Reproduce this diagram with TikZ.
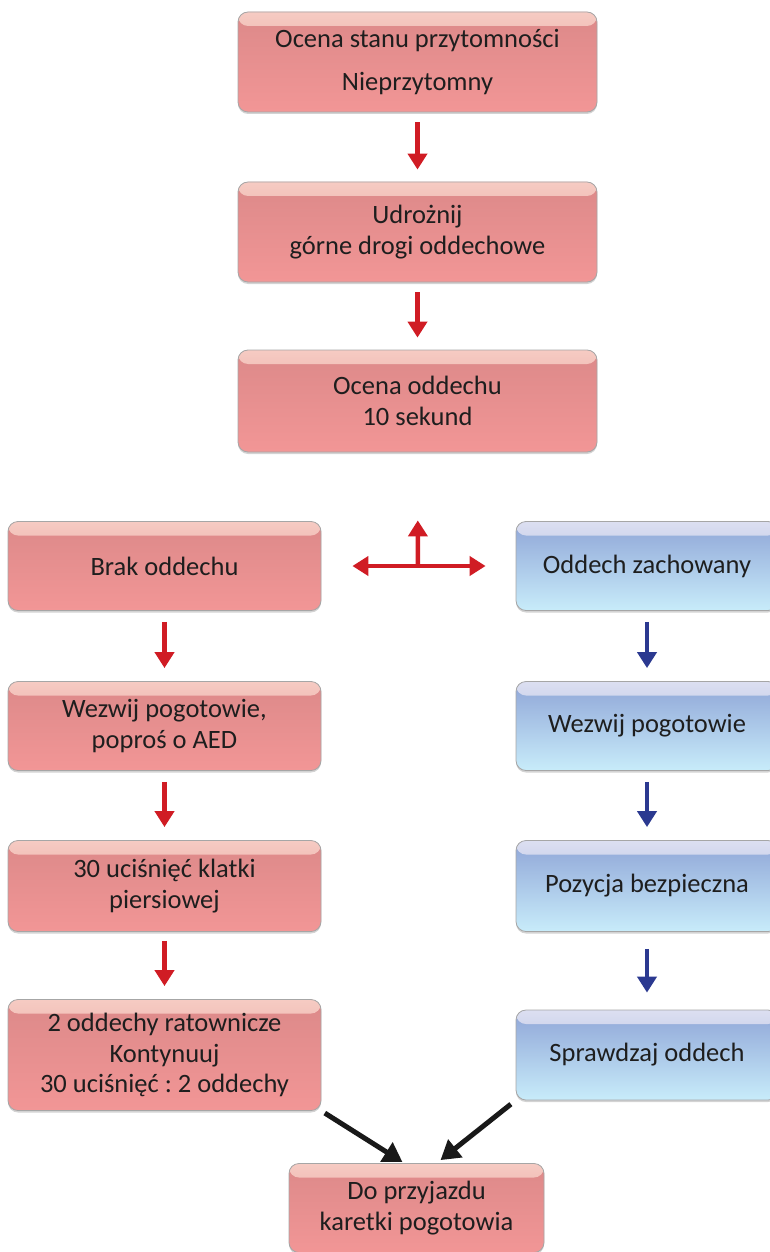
\documentclass[tikz,border=0pt]{standalone}
\usepackage{fontspec}
\setmainfont{Carlito}
\frenchspacing
\usetikzlibrary{arrows.meta,shadows}

\definecolor{rtop}{HTML}{F6CBC3}
\definecolor{rband}{HTML}{E0918F}
\definecolor{rmid}{HTML}{DC8989}
\definecolor{rbot}{HTML}{F29696}
\definecolor{btop}{HTML}{DCDFF1}
\definecolor{bband}{HTML}{9DAEDC}
\definecolor{bmid}{HTML}{8FA5D7}
\definecolor{bbot}{HTML}{C8ECFA}
\definecolor{arrred}{HTML}{D01C24}
\definecolor{arrblue}{HTML}{2B3990}
\definecolor{boxtext}{HTML}{1E1E1E}

\tikzset{
  box/.style={draw=black!35,line width=0.8pt,rounded corners=10pt,align=center,
              text=boxtext,font=\fontsize{26.5}{30.5}\selectfont,
              drop shadow={shadow xshift=0pt,shadow yshift=-2pt,opacity=.35}},
  redbox/.style={box,top color=rmid,bottom color=rbot,
              path picture={\shade[top color=rtop,bottom color=rband]
                (path picture bounding box.north west) rectangle
                ([yshift=-14pt]path picture bounding box.north east);}},
  bluebox/.style={box,top color=bmid,bottom color=bbot,
              path picture={\shade[top color=btop,bottom color=bband]
                (path picture bounding box.north west) rectangle
                ([yshift=-14pt]path picture bounding box.north east);}},
  redarrow/.style={arrred,line width=4.5pt,-{Triangle[length=16pt,width=19pt]}},
  bluearrow/.style={arrblue,line width=4.5pt,-{Triangle[length=16pt,width=19pt]}},
  blackarrow/.style={black!90,line width=5pt,-{Triangle[length=19pt,width=22pt]}}
}

\begin{document}
\begin{tikzpicture}[x=1pt,y=-1pt]

\useasboundingbox (0,0) rectangle (770,1252);

                    % middle
                    \node[redbox,minimum width=359pt,minimum height=100pt] (ocena) at (417.5,62) {Ocena stanu przytomności\\[12pt]Nieprzytomny};
                    \node[redbox,minimum width=359pt,minimum height=100pt] (drogi) at (417.5,232) {Udrożnij\\górne drogi oddechowe};
                    \node[redbox,minimum width=359pt,minimum height=102pt] (oddech) at (417.5,401) {Ocena oddechu\\10 sekund};

                    \path [redarrow, shorten <=10pt, shorten >=12pt] (ocena) edge (drogi);
                    \path [redarrow, shorten <=10pt, shorten >=12pt] (drogi) edge (oddech);

                    % left: brak oddechu
                    \node[redbox,minimum width=313pt,minimum height=89pt] (brak) at (164.5,566) {Brak oddechu};
                    \node[redbox,minimum width=313pt,minimum height=89pt] (wezwijL) at (164.5,726) {Wezwij pogotowie,\\poproś o AED};
                    \node[redbox,minimum width=313pt,minimum height=91pt] (ucisk) at (164.5,886) {30 uciśnięć klatki\\piersiowej};
                    \node[redbox,minimum width=313pt,minimum height=111pt] (ratown) at (164.5,1055) {2 oddechy ratownicze\\Kontynuuj\\30 uciśnięć : 2 oddechy};

                    \path [redarrow, shorten <=11pt, shorten >=13pt] (brak) edge (wezwijL);
                    \path [redarrow, shorten <=11pt, shorten >=13pt] (wezwijL) edge (ucisk);
                    \path [redarrow, shorten <=9pt, shorten >=13pt] (ucisk) edge (ratown);

                    % right: oddech zachowany
                    \node[bluebox,minimum width=262pt,minimum height=89pt] (zach) at (647,566) {Oddech zachowany};
                    \node[bluebox,minimum width=262pt,minimum height=89pt] (wezwijR) at (647,726) {Wezwij pogotowie};
                    \node[bluebox,minimum width=262pt,minimum height=91pt] (pozycja) at (647,886) {Pozycja bezpieczna};
                    \node[bluebox,minimum width=262pt,minimum height=90pt] (sprawdz) at (647,1055) {Sprawdzaj oddech};

                    \path [bluearrow, shorten <=11pt, shorten >=13pt] (zach) edge (wezwijR);
                    \path [bluearrow, shorten <=11pt, shorten >=13pt] (wezwijR) edge (pozycja);
                    \path [bluearrow, shorten <=17pt, shorten >=17pt] (pozycja) edge (sprawdz);

                    % split
                    \coordinate (split) at (418,566);
                    \path [redarrow, {Triangle[length=16pt,width=19pt]}-{Triangle[length=16pt,width=19pt]}, shorten <=31pt, shorten >=30pt] (brak) edge (zach);
                    \path [redarrow, shorten >=68pt] (split) edge (oddech.south);

                    % end
                    \node[redbox,minimum width=255pt,minimum height=89pt] (karetka) at (416.5,1208) {Do przyjazdu\\karetki pogotowia};
                    \path [blackarrow, shorten <=4pt] (ratown.south east) edge ([xshift=-14pt,yshift=1pt]karetka.north);
                    \path [blackarrow, shorten <=6pt] (sprawdz.south west) edge ([xshift=24pt,yshift=3pt]karetka.north);

%%%%%%%%%%%%%%%%%%%%%%%%%%%%%%%%%%%%%%%%%%%%%%%%%%%%%%%%%%%%%%%%%%%%%%%%%%%%%%%%%%%%

\end{tikzpicture}
\end{document}
